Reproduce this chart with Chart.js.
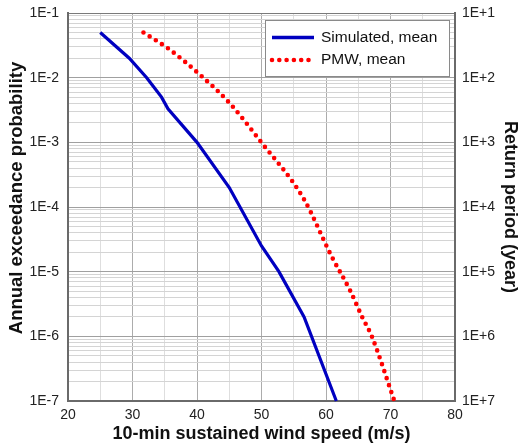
<!DOCTYPE html>
<html><head><meta charset="utf-8">
<script src="https://cdn.jsdelivr.net/npm/chart.js@4.4.1/dist/chart.umd.min.js"></script>
<style>html,body{margin:0;padding:0;background:#fff;}canvas{display:block;}</style>
</head><body>
<canvas id="c" width="521" height="445"></canvas>
<script>
// ---- data ----
const simulatedSpeed = [25, 29.5, 32.2, 34.5, 35.5, 40, 45, 50, 52.7, 56.6, 61.6];
const simulatedProb  = [5e-2, 2e-2, 1e-2, 5e-3, 3.3e-3, 1e-3, 2e-4, 2.5e-5, 1e-5, 2e-6, 1e-7];
const pmwSpeed = [31.7, 35.8, 40.5, 45.1, 49.8, 56.5, 60.9, 63.7, 65.6, 67.1, 70.6];
const pmwProb  = [5e-2, 2.7e-2, 1.1e-2, 4e-3, 1.05e-3, 1.36e-4, 1.7e-5, 5.2e-6, 2e-6, 1e-6, 1e-7];
const seriesNames = ['Simulated, mean', 'PMW, mean'];
const xTickLabels = ['20', '30', '40', '50', '60', '70', '80'];
const leftTickLabels  = ['1E-7', '1E-6', '1E-5', '1E-4', '1E-3', '1E-2', '1E-1'];
const rightTickLabels = ['1E+7', '1E+6', '1E+5', '1E+4', '1E+3', '1E+2', '1E+1'];
const axisTitles = {
  x: '10-min sustained wind speed (m/s)',
  y: 'Annual exceedance probability',
  y2: 'Return period (year)'
};

const FONT = '"Liberation Sans", Arial, sans-serif';
Chart.defaults.font.family = FONT;
Chart.defaults.color = '#111';

const decadeExps = [-7, -6, -5, -4, -3, -2, -1];
const logTicks = [];
for (let e = -7; e <= -2; e++) {
  for (let m = 1; m <= 9; m++) logTicks.push(Number((m * Math.pow(10, e)).toPrecision(3)));
}
logTicks.push(0.1);

function decadeIndex(v) {
  const l = Math.log10(v);
  const r = Math.round(l);
  if (Math.abs(l - r) < 1e-6) return decadeExps.indexOf(r);
  return -1;
}

const toPts = (xs, ys) => xs.map((x, i) => ({x: x, y: ys[i]}));

const boxLegend = {
  id: 'boxLegend',
  afterDraw(chart) {
    const ctx = chart.ctx;
    const ds = chart.data.datasets;
    ctx.save();
    ctx.fillStyle = '#fff';
    ctx.fillRect(265.5, 20.5, 184, 56);
    ctx.strokeStyle = '#8a8a8a';
    ctx.lineWidth = 1;
    ctx.strokeRect(265.5, 20.5, 184, 56);
    ctx.strokeStyle = ds[0].borderColor;
    ctx.lineWidth = 3.5;
    ctx.setLineDash([]);
    ctx.beginPath(); ctx.moveTo(272, 37.5); ctx.lineTo(314, 37.5); ctx.stroke();
    ctx.strokeStyle = ds[1].borderColor;
    ctx.lineWidth = ds[1].borderWidth;
    ctx.lineCap = 'round';
    ctx.setLineDash(ds[1].borderDash);
    ctx.beginPath(); ctx.moveTo(272, 60); ctx.lineTo(310, 60); ctx.stroke();
    ctx.setLineDash([]);
    ctx.fillStyle = '#111';
    ctx.font = '15.5px ' + FONT;
    ctx.textBaseline = 'middle';
    ctx.textAlign = 'left';
    ctx.fillText(ds[0].label, 321, 38);
    ctx.fillText(ds[1].label, 321, 60);
    // left axis title (positioned slightly above the plot centre, as in the reference)
    ctx.translate(17, 198);
    ctx.rotate(-Math.PI / 2);
    ctx.textAlign = 'center';
    ctx.font = 'bold 18.5px ' + FONT;
    ctx.fillText(axisTitles.y, 0, 0);
    ctx.restore();
  }
};

const yCommon = {
  type: 'logarithmic',
  min: 1e-7,
  max: 1e-1,
  afterBuildTicks: s => { s.ticks = logTicks.map(v => ({value: v, major: decadeIndex(v) >= 0})); }
};

new Chart(document.getElementById('c'), {
  type: 'line',
  data: {
    datasets: [
      {
        label: seriesNames[0],
        data: toPts(simulatedSpeed, simulatedProb),
        borderColor: '#0000C0',
        borderWidth: 3.2,
        pointRadius: 0,
        tension: 0,
        fill: false,
        clip: false,
        yAxisID: 'y'
      },
      {
        label: seriesNames[1],
        data: toPts(pmwSpeed, pmwProb),
        borderColor: '#FF0000',
        borderWidth: 4.6,
        borderDash: [0, 7.3],
        borderCapStyle: 'round',
        pointRadius: 0,
        cubicInterpolationMode: 'monotone',
        fill: false,
        clip: false,
        yAxisID: 'y'
      }
    ]
  },
  options: {
    responsive: false,
    animation: false,
    devicePixelRatio: 1,
    layout: {padding: {top: 13, left: 0, right: 0, bottom: 0}},
    plugins: {legend: {display: false}, tooltip: {enabled: false}},
    scales: {
      x: {
        type: 'linear',
        position: 'bottom',
        min: 20,
        max: 80,
        afterFit: s => { s.height = 44; s.paddingLeft = 0; s.paddingRight = 0; },
        ticks: {
          stepSize: 5,
          autoSkip: false,
          maxRotation: 0,
          padding: 6,
          color: '#222',
          font: {size: 14},
          callback: v => { const i = xTickLabels.indexOf(String(v)); return i >= 0 ? xTickLabels[i] : ''; }
        },
        grid: {
          drawTicks: false,
          lineWidth: 1,
          color: ctx => (ctx.tick && ctx.tick.value % 10 === 0) ? '#acacac' : '#dedede'
        },
        border: {display: true, color: '#6a6a6a', width: 2},
        title: {display: true, text: axisTitles.x, font: {size: 18, weight: 'bold'}, color: '#111', padding: {top: 0, bottom: 0}}
      },
      y: Object.assign({}, yCommon, {
        position: 'left',
        afterFit: s => { s.width = 68; s.paddingTop = 0; s.paddingBottom = 0; },
        ticks: {
          autoSkip: false,
          padding: 9,
          color: '#222',
          font: {size: 14},
          callback: v => { const i = decadeIndex(v); return i >= 0 ? leftTickLabels[i] : ''; }
        },
        grid: {
          drawTicks: false,
          lineWidth: 1,
          color: ctx => {
            const i = ctx.tick ? decadeIndex(ctx.tick.value) : -1;
            if (i === 6) return '#7a7a7a';
            return i >= 0 ? '#a0a0a0' : '#d4d4d4';
          }
        },
        border: {display: true, color: '#6a6a6a', width: 2},
        title: {display: false, text: axisTitles.y}
      }),
      y2: Object.assign({}, yCommon, {
        position: 'right',
        afterFit: s => { s.width = 66; s.paddingTop = 0; s.paddingBottom = 0; },
        ticks: {
          autoSkip: false,
          padding: 7,
          color: '#222',
          font: {size: 14},
          callback: v => { const i = decadeIndex(v); return i >= 0 ? rightTickLabels[i] : ''; }
        },
        grid: {drawOnChartArea: false, drawTicks: false},
        border: {display: true, color: '#6a6a6a', width: 2},
        title: {display: true, text: axisTitles.y2, font: {size: 18, weight: 'bold'}, color: '#111', padding: {top: 0, bottom: 0}}
      })
    }
  },
  plugins: [boxLegend]
});
</script>
</body></html>
